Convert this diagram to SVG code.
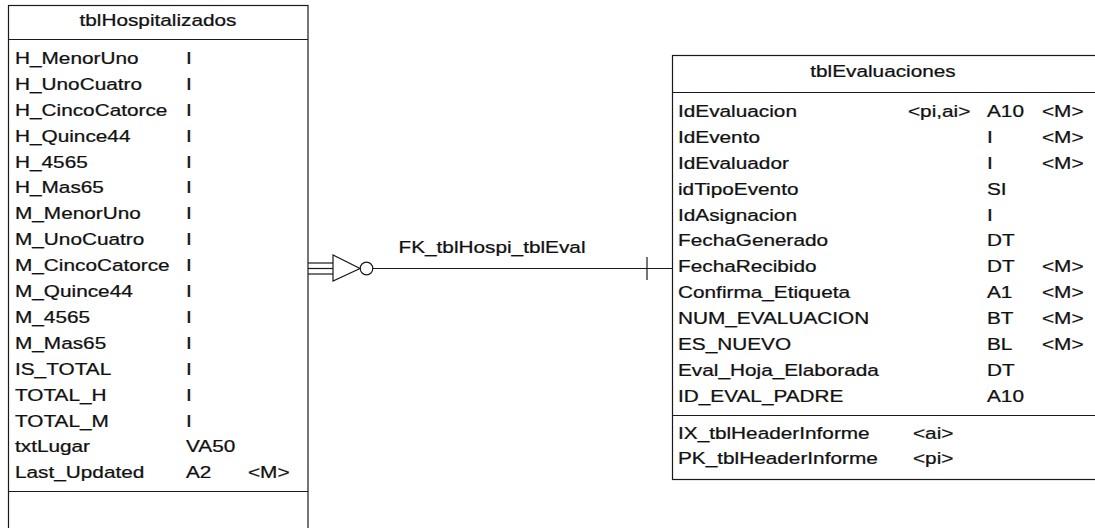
<svg xmlns="http://www.w3.org/2000/svg" width="1095" height="528" viewBox="0 0 1095 528">
<style>
.box{fill:#fff;stroke:#1a1a1a;stroke-width:1.2}
.sep{stroke:#1a1a1a;stroke-width:1.2}
.t{font-family:"Liberation Sans",Arial,sans-serif;font-size:16.5px;fill:#111;stroke:#111;stroke-width:0.25}
.ttl{text-anchor:middle}
.conn{fill:none;stroke:#1a1a1a;stroke-width:1.2}
</style>
<rect width="1095" height="528" fill="#fff"/>
<g id="tblHospitalizados">
<rect class="box" x="8.5" y="5.5" width="299.5" height="540"/>
<line class="sep" x1="8.5" y1="39.5" x2="308" y2="39.5"/>
<line class="sep" x1="8.5" y1="491.5" x2="308" y2="491.5"/>
<g class="t" transform="scale(1.26,1)">
<text class="ttl" x="125.4" y="26">tblHospitalizados</text>
<text x="11.9" y="64">H_MenorUno</text><text x="147.62" y="64">I</text>
<text x="11.9" y="89.9">H_UnoCuatro</text><text x="147.62" y="89.9">I</text>
<text x="11.9" y="115.8">H_CincoCatorce</text><text x="147.62" y="115.8">I</text>
<text x="11.9" y="141.7">H_Quince44</text><text x="147.62" y="141.7">I</text>
<text x="11.9" y="167.6">H_4565</text><text x="147.62" y="167.6">I</text>
<text x="11.9" y="193.5">H_Mas65</text><text x="147.62" y="193.5">I</text>
<text x="11.9" y="219.4">M_MenorUno</text><text x="147.62" y="219.4">I</text>
<text x="11.9" y="245.3">M_UnoCuatro</text><text x="147.62" y="245.3">I</text>
<text x="11.9" y="271.2">M_CincoCatorce</text><text x="147.62" y="271.2">I</text>
<text x="11.9" y="297.1">M_Quince44</text><text x="147.62" y="297.1">I</text>
<text x="11.9" y="323">M_4565</text><text x="147.62" y="323">I</text>
<text x="11.9" y="348.9">M_Mas65</text><text x="147.62" y="348.9">I</text>
<text x="11.9" y="374.8">IS_TOTAL</text><text x="147.62" y="374.8">I</text>
<text x="11.9" y="400.7">TOTAL_H</text><text x="147.62" y="400.7">I</text>
<text x="11.9" y="426.6">TOTAL_M</text><text x="147.62" y="426.6">I</text>
<text x="11.9" y="452.5">txtLugar</text><text x="147.62" y="452.5">VA50</text>
<text x="11.9" y="478.4">Last_Updated</text><text x="147.62" y="478.4">A2</text><text x="196.83" y="478.4">&lt;M&gt;</text>
</g>
</g>
<g id="tblEvaluaciones">
<rect class="box" x="672.5" y="55.5" width="430" height="424"/>
<line class="sep" x1="672.5" y1="92.5" x2="1100" y2="92.5"/>
<line class="sep" x1="672.5" y1="415.5" x2="1100" y2="415.5"/>
<g class="t" transform="scale(1.26,1)">
<text class="ttl" x="700.79" y="77">tblEvaluaciones</text>
<text x="538.1" y="117">IdEvaluacion</text><text x="720.63" y="117">&lt;pi,ai&gt;</text><text x="783.33" y="117">A10</text><text x="826.98" y="117">&lt;M&gt;</text>
<text x="538.1" y="142.9">IdEvento</text><text x="783.33" y="142.9">I</text><text x="826.98" y="142.9">&lt;M&gt;</text>
<text x="538.1" y="168.8">IdEvaluador</text><text x="783.33" y="168.8">I</text><text x="826.98" y="168.8">&lt;M&gt;</text>
<text x="538.1" y="194.7">idTipoEvento</text><text x="783.33" y="194.7">SI</text>
<text x="538.1" y="220.6">IdAsignacion</text><text x="783.33" y="220.6">I</text>
<text x="538.1" y="246.5">FechaGenerado</text><text x="783.33" y="246.5">DT</text>
<text x="538.1" y="272.4">FechaRecibido</text><text x="783.33" y="272.4">DT</text><text x="826.98" y="272.4">&lt;M&gt;</text>
<text x="538.1" y="298.3">Confirma_Etiqueta</text><text x="783.33" y="298.3">A1</text><text x="826.98" y="298.3">&lt;M&gt;</text>
<text x="538.1" y="324.2">NUM_EVALUACION</text><text x="783.33" y="324.2">BT</text><text x="826.98" y="324.2">&lt;M&gt;</text>
<text x="538.1" y="350.1">ES_NUEVO</text><text x="783.33" y="350.1">BL</text><text x="826.98" y="350.1">&lt;M&gt;</text>
<text x="538.1" y="376">Eval_Hoja_Elaborada</text><text x="783.33" y="376">DT</text>
<text x="538.1" y="401.9">ID_EVAL_PADRE</text><text x="783.33" y="401.9">A10</text>
<text x="538.1" y="439">IX_tblHeaderInforme</text><text x="724.6" y="439">&lt;ai&gt;</text>
<text x="538.1" y="464.5">PK_tblHeaderInforme</text><text x="724.6" y="464.5">&lt;pi&gt;</text>
</g>
</g>
<g id="connectors">
<g id="FK_tblHospi_tblEval">
<line class="conn" x1="308" y1="263" x2="333" y2="263"/>
<line class="conn" x1="308" y1="268.5" x2="333" y2="268.5"/>
<line class="conn" x1="308" y1="274" x2="333" y2="274"/>
<polygon class="conn" points="333,255 333,281 360,268.5"/>
<circle class="conn" cx="366.5" cy="268.5" r="6.3"/>
<line class="conn" x1="372.8" y1="268.5" x2="672" y2="268.5"/>
<line class="conn" x1="647" y1="257" x2="647" y2="280"/>
<g class="t" transform="scale(1.26,1)"><text class="ttl" x="390.48" y="253">FK_tblHospi_tblEval</text></g>
</g>
</g>
</svg>
